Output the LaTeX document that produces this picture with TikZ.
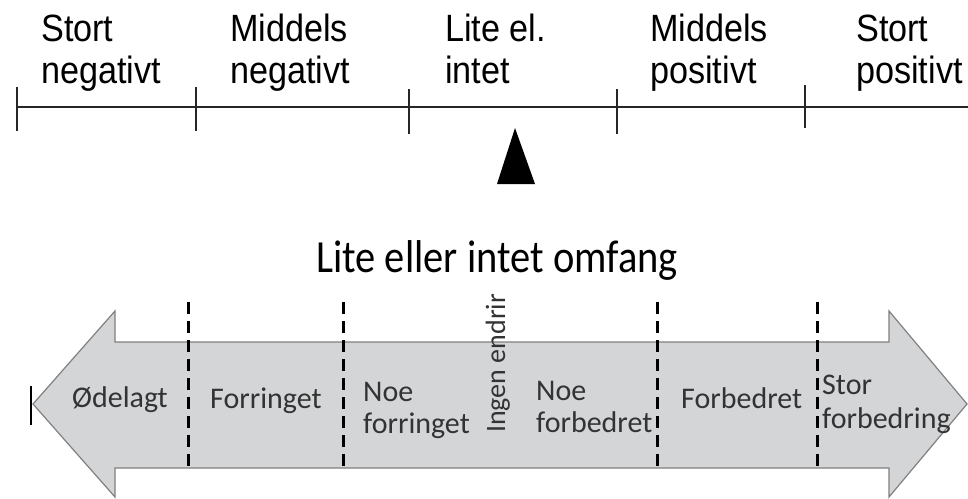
\documentclass[tikz,border=0pt]{standalone}
\usepackage{fontspec}
\newfontfamily\skalafont[FakeStretch=0.9]{Liberation Sans}
\newfontfamily\pilfont{Carlito}
\newfontfamily\tittelfont[FakeStretch=0.88]{Carlito}
\usetikzlibrary{positioning}
\definecolor{pilgra}{HTML}{D4D5D7}
\definecolor{pilkant}{HTML}{808080}
\tikzset{
	toppetikett/.style={anchor=base west, inner sep=0pt, align=left, font=\skalafont\fontsize{38}{42}\selectfont},
	piletikett/.style={anchor=base west, inner sep=0pt, align=left, text=black!80, font=\pilfont\fontsize{30}{32}\selectfont},
	skille/.style={line width=3pt, dash pattern=on 12pt off 7pt},
	strek/.style={line width=1.5pt, black!85},
}

\begin{document}
\begin{tikzpicture}[x=1pt, y=-1pt]
		\useasboundingbox (0,0) rectangle (968,498);
		% skala
		\coordinate (V) at (17,107);
		\coordinate (H) at (968,107);
		\draw[strek] (V) -- (H);
		\foreach \x/\t/\b in {17/87/131, 196/87/131, 409/89/134, 617/89/134, 805/85/128}
			\draw[strek] (\x,\t) -- (\x,\b);
		% (base = siste linje)
		\node (SN) [toppetikett] at (41,83)		{Stort\\negativt};
		\node (MN) [toppetikett] at (230,83)	{Middels\\negativt};
		\node (LI) [toppetikett] at (445,83)	{Lite el.\\intet};
		\node (MP) [toppetikett] at (650,83)	{Middels\\positivt};
		\node (SP) [toppetikett] at (856,83)	{Stort\\positivt};
		%
		\fill (515,128) -- (535,184) -- (497,184) -- cycle;
		%
		\node (omfang) [anchor=base, inner sep=0pt, font=\tittelfont\fontsize{46}{48}\selectfont] at (497,272) {Lite eller intet omfang};
		% pil
		\draw[pilkant, fill=pilgra, line width=1.2pt]
			(33,404) -- (115,311) -- (115,342) -- (889,342) -- (889,311) -- (967,404)
			-- (889,497) -- (889,468) -- (115,468) -- (115,497) -- cycle;
		\draw[line width=2.5pt] (31,386) -- (31,425);
		\foreach \x in {188, 343, 657, 817}
			\draw[skille] (\x,302) -- (\x,468);
		%
		\node (OD) [piletikett] at (72,407)		{Ødelagt};
		\node (FO) [piletikett] at (210,408)	{Forringet};
		\node (NF) [piletikett] at (363,433)	{Noe\\forringet};
		\node (IE) [piletikett, rotate=90, font=\pilfont\fontsize{28}{30}\selectfont] at (505,433) {Ingen endrir};
		\node (NB) [piletikett] at (536,432)	{Noe\\forbedret};
		\node (FB) [piletikett] at (681,408)	{Forbedret};
		\node (SF) [piletikett, font=\pilfont\fontsize{30}{34}\selectfont] at (822,428) {Stor\\forbedring};
\end{tikzpicture}
\end{document}
